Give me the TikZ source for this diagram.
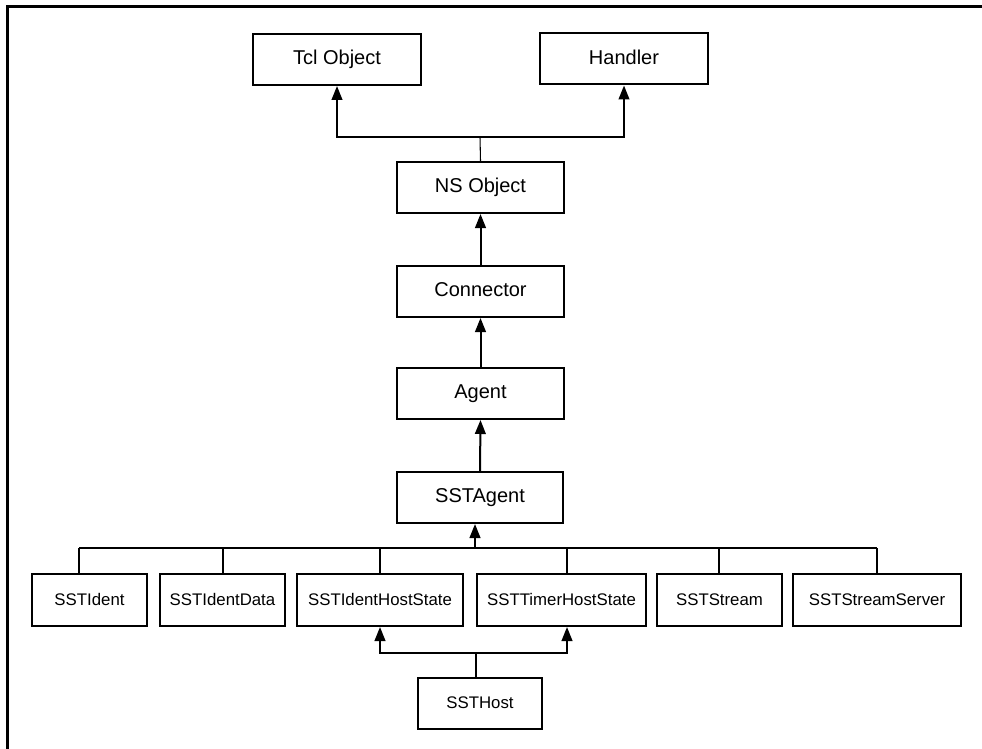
\documentclass[tikz,border=0pt]{standalone}
\usepackage{fontspec}
\setmainfont{Liberation Sans}
\usetikzlibrary{arrows.meta}
\begin{document}
\begin{tikzpicture}[x=0.75pt,y=-0.75pt,
  box/.style={draw,line width=1.5pt,inner sep=0pt,minimum height=38.25pt,minimum width=#1*0.75pt,text height=1.75ex,text depth=0.3ex},
  big/.style={font=\fontsize{15}{18}\selectfont},
  small/.style={font=\fontsize{12.6}{15}\selectfont},
  link/.style={line width=1.5pt},
  arr/.style={line width=1.5pt,-{Triangle[length=10.5pt,width=8pt]}},
  thin/.style={line width=0.8pt}]
\useasboundingbox (0,0) rectangle (982,749);
\fill[white] (0,0) rectangle (982,749);
% outer frame
\coordinate (fa) at (7.5,749);
\coordinate (fb) at (7.5,7);
\coordinate (fc) at (982,7);
\draw[line width=2.25pt] (fa) -- (fb) -- (fc);
% top level
\node[box=168,big] (tcl) at (337,59.5) {Tcl Object};
\node[box=168,big] (handler) at (624,59) {Handler};
\node[box=167,big] (ns) at (480.5,187.5) {NS Object};
\node[box=167,big] (conn) at (480.5,291.5) {Connector};
\node[box=167,big] (agent) at (480.5,393.5) {Agent};
\node[box=166,big] (sstagent) at (480,497.5) {SSTAgent};
% bottom row
\node[box=115,small,minimum height=39pt] (ident) at (89.5,600) {SSTIdent};
\node[box=125,small,minimum height=39pt] (identdata) at (222.5,600) {SSTIdentData};
\node[box=166,small,minimum height=39pt] (identhost) at (380,600) {SSTIdentHostState};
\node[box=169,small,minimum height=39pt] (timerhost) at (561.5,600) {SSTTimerHostState};
\node[box=125,small,minimum height=39pt] (stream) at (719.5,600) {SSTStream};
\node[box=168,small,minimum height=39pt] (streamserver) at (877,600) {SSTStreamServer};
\node[box=124,small] (ssthost) at (480,703.5) {SSTHost};
% NS Object -> Tcl Object, Handler
\coordinate (topbus) at (480,137);
\draw[thin] (ns.north) -- (topbus);
\draw[arr] (topbus) -| (tcl.south);
\draw[arr] (topbus) -| (handler.south);
% chain
\draw[arr] (conn.north) -- (ns.south);
\draw[arr] (agent.north) -- (conn.south);
\draw[arr] (sstagent.north) -- (agent.south);
% bus to SSTAgent
\coordinate (bus) at (475,548);
\coordinate (d1) at (79,548);
\coordinate (d2) at (223,548);
\coordinate (d3) at (380,548);
\coordinate (d4) at (567,548);
\coordinate (d5) at (719,548);
\coordinate (d6) at (877,548);
\draw[arr] (bus) -- (bus |- sstagent.south);
\draw[link] (d1) -- (d6);
\draw[link] (d1) -- (d1 |- ident.north);
\draw[link] (d2) -- (d2 |- identdata.north);
\draw[link] (d3) -- (d3 |- identhost.north);
\draw[link] (d4) -- (d4 |- timerhost.north);
\draw[link] (d5) -- (d5 |- stream.north);
\draw[link] (d6) -- (d6 |- streamserver.north);
% SSTHost
\coordinate (hbus) at (476,653);
\coordinate (h1) at (380,653);
\coordinate (h2) at (567,653);
\draw[link] (hbus |- ssthost.north) -- (hbus);
\draw[arr] (hbus) -- (h1) -- (h1 |- identhost.south);
\draw[arr] (hbus) -- (h2) -- (h2 |- timerhost.south);
\end{tikzpicture}
\end{document}
